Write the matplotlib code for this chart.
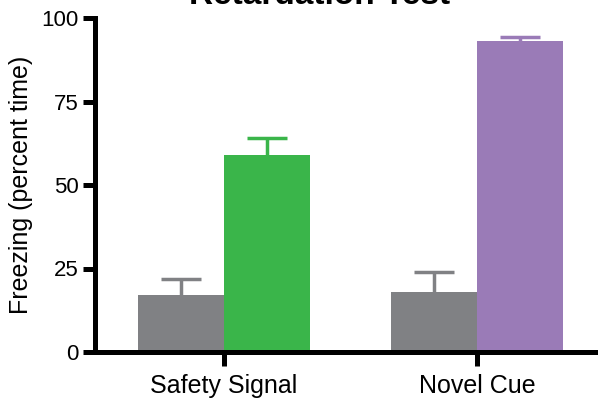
import matplotlib
matplotlib.use('Agg')
import matplotlib.pyplot as plt
import numpy as np

plt.rcParams['font.family'] = ['Liberation Sans', 'DejaVu Sans']

categories = ['Safety Signal', 'Novel Cue']
control_vals = [17, 18]
control_err = [5, 6]
test_vals = [59, 93]
test_err = [5, 1.2]
test_colors = ['#3ab54a', '#9a7bb7']
gray = '#808184'
yticks = [0, 25, 50, 75, 100]

fig = plt.figure(figsize=(5.98, 4.0), dpi=100)
ax = fig.add_axes([0.159, 0.12, 0.841, 0.835])

x = np.arange(len(categories))
w = 0.34
cap = 0.08

# control bars to the left of each tick, test bars to the right
ax.bar(x - w / 2, control_vals, width=w, color=gray, zorder=2)
ax.bar(x + w / 2, test_vals, width=w, color=test_colors, zorder=2)

# upper-only error bars in the bar colour
xs = np.concatenate([x - w / 2, x + w / 2])
vals = np.array(control_vals + test_vals)
errs = np.array(control_err + test_err)
cols = [gray, gray] + test_colors
ax.vlines(xs, vals, vals + errs, colors=cols, linewidth=2.5, zorder=1)
ax.hlines(vals + errs, xs - cap, xs + cap, colors=cols, linewidth=2.5, zorder=1)

ax.set_xlim(-0.51, 1.478)
ax.set_ylim(0, 100)
ax.set_yticks(yticks)
ax.set_xticks(x)
ax.set_xticklabels(categories, fontsize=18)
ax.tick_params(axis='y', labelsize=16, width=3.6, length=9, pad=3)
ax.tick_params(axis='x', width=3.6, length=10, pad=6)

for s in ['top', 'right']:
    ax.spines[s].set_visible(False)
for s in ['left', 'bottom']:
    ax.spines[s].set_linewidth(3.6)
ax.spines['bottom'].set_capstyle('butt')

ax.set_ylabel('Freezing (percent time)', fontsize=18, labelpad=6)

fig.text(0.535, 1 - 4 / 400, 'Retardation Test', fontsize=24, fontweight='bold',
         ha='center', va='baseline')

fig.savefig('out.png', dpi=100)
